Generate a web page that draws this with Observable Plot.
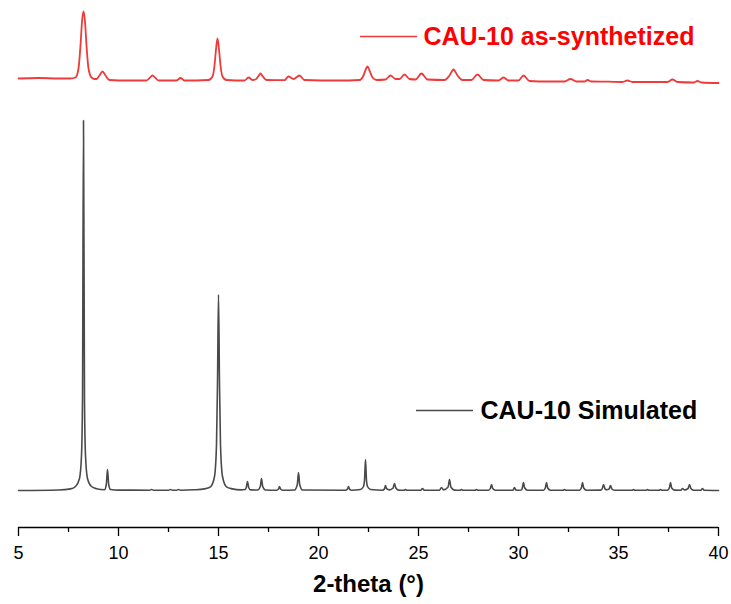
<!DOCTYPE html>
<html>
<head>
<meta charset="utf-8">
<script src="https://cdn.jsdelivr.net/npm/d3@7"></script>
<script src="https://cdn.jsdelivr.net/npm/@observablehq/plot@0.6"></script>
<style>
  html, body { margin: 0; padding: 0; background: #fff; }
  #chart svg { display: block; font-family: "Liberation Sans", Arial, sans-serif; }
  #chart g[aria-label="x-axis label"] { font-size: 24px !important; font-weight: bold !important; }
  #chart g[aria-label="x-axis label"] text { font-size: 24px !important; font-weight: bold !important; }
</style>
</head>
<body>
<div id="chart"></div>
<script>
// ---- data (intensity in arbitrary units) ----
const simulatedTheta = [
  5.0, 7.0, 7.6, 7.85, 8.05, 8.15, 8.2, 8.25, 8.3, 8.35, 8.45, 8.65, 8.9, 9.3,
  9.39, 9.45, 9.51, 9.6, 10.0, 11.55, 11.65, 11.75, 12.5, 12.6, 12.7, 12.9, 13.0, 13.1,
  13.8, 14.3, 14.6, 14.8, 14.9, 14.95, 15.0, 15.05, 15.1, 15.2, 15.4, 15.7, 16.1,
  16.33, 16.39, 16.45, 16.51, 16.6, 16.95, 17.09, 17.15, 17.21, 17.35,
  17.9, 18.0, 18.05, 18.1, 18.2, 18.8, 18.94, 19.0, 19.06, 19.2,
  21.35, 21.45, 21.5, 21.55, 21.65, 22.1, 22.25, 22.3, 22.35, 22.4, 22.45, 22.6,
  23.2, 23.3, 23.35, 23.4, 23.55, 23.73, 23.8, 23.87, 24.0, 24.28, 24.35, 24.42,
  25.1, 25.2, 25.3, 26.05, 26.15, 26.25, 26.48, 26.55, 26.62, 26.8, 27.08, 27.15, 27.22,
  27.83, 27.9, 27.97, 28.5, 28.59, 28.65, 28.71, 28.85, 29.72, 29.8, 29.88,
  30.15, 30.19, 30.25, 30.31, 30.45, 31.25, 31.34, 31.4, 31.46, 31.6,
  32.23, 32.3, 32.37, 33.05, 33.14, 33.2, 33.26, 33.4,
  34.12, 34.19, 34.25, 34.33, 34.42, 34.53, 34.6, 34.67, 34.8,
  35.68, 35.75, 35.82, 36.38, 36.45, 36.52, 37.03, 37.1, 37.17,
  37.45, 37.54, 37.6, 37.66, 37.8, 38.12, 38.2, 38.3, 38.48, 38.55, 38.62, 38.75,
  39.12, 39.2, 39.28, 40.0
];
const simulatedIntensity = [
  0, 0.5, 1.6, 4, 12, 35, 90, 370, 90, 35, 12, 4, 1.8, 0.8,
  6, 21, 6, 1, 0.4, 0.3, 1, 0.3, 0.3, 1, 0.3, 0.3, 1, 0.3,
  0.7, 1.6, 3.7, 14, 46, 107, 196, 107, 46, 14, 3.7, 1.6, 0.6,
  1, 3, 9, 3, 0.6, 0.5, 4, 12, 4, 0.5,
  0.3, 1.5, 4, 1.5, 0.3, 0.5, 6, 18, 6, 0.5,
  0.2, 1.5, 4, 1.5, 0.2, 1, 4, 10, 31, 10, 4, 1,
  0.3, 1.8, 5, 1.8, 0.6, 2.5, 7, 2.5, 0.4, 0.2, 1, 0.2,
  0.2, 2, 0.2, 0.3, 3, 0.6, 3.5, 11, 3.5, 0.4, 0.2, 1, 0.2,
  0.2, 1, 0.2, 0.3, 2, 6, 2, 0.3, 0.2, 3, 0.3,
  0.5, 2.5, 8, 2.5, 0.3, 0.3, 2.5, 8, 2.5, 0.3,
  0.2, 1, 0.2, 0.3, 2.5, 8, 2.5, 0.3,
  0.4, 2, 6, 1.5, 0.8, 1.5, 5, 1.5, 0.3,
  0.2, 1, 0.2, 0.2, 1, 0.2, 0.2, 1, 0.2,
  0.3, 2.5, 8, 2.5, 0.4, 0.3, 2, 0.6, 2, 6, 2, 0.3,
  0.2, 2, 0.2, 0
];

const synthTheta = [
  5.0, 6.0, 7.0, 7.6, 7.85, 8.0, 8.1, 8.18, 8.25, 8.32, 8.4, 8.5, 8.65, 8.8,
  8.9, 9.05, 9.2, 9.35, 9.55, 10.5, 11.4, 11.55, 11.7, 11.85, 12.0, 12.9, 13.1, 13.3,
  14.5, 14.7, 14.8, 14.88, 14.95, 15.02, 15.1, 15.2, 15.4, 16.3, 16.5, 16.7,
  16.85, 17.0, 17.1, 17.2, 17.4, 18.3, 18.5, 18.75, 19.05, 19.3, 21.0,
  22.05, 22.25, 22.38, 22.45, 22.55, 22.7, 22.9, 23.35, 23.6, 23.85, 24.05, 24.3, 24.55,
  24.85, 25.15, 25.45, 26.3, 26.55, 26.75, 26.95, 27.2, 27.65, 27.95, 28.25,
  29.0, 29.25, 29.5, 30.0, 30.25, 30.55, 31.5, 32.3, 32.6, 32.9, 33.3, 33.45, 33.65,
  34.5, 35.2, 35.45, 35.7, 36.5, 37.45, 37.7, 37.95, 38.75, 38.95, 39.15, 40.0
];
const synthIntensity = [
  2, 2.5, 2, 2, 3, 12, 35, 60, 69, 60, 35, 12, 3, 1.5,
  1.5, 5, 9, 5, 0.5, 0, 0, 2.5, 5, 2.5, 0, 0, 2.5, 0,
  0.5, 4, 15, 32, 42, 32, 15, 4, 0.5, 0, 3, 0.5,
  1, 4.5, 7, 4.5, 0.5, 0.3, 4, 1.5, 5, 0.5, 0,
  0.5, 5, 12, 14, 10, 3, 0.5, 1, 5, 1.5, 1.5, 6, 1.5,
  1, 7, 1, 0.5, 5, 11, 5, 0.5, 0.5, 6, 0.5,
  0, 3, 0, 0, 5, -0.5, -1, -1, 1.5, -1, -1, 0.5, -1,
  -1.2, -1.5, 0, -1.5, -1.5, -1.5, 1, -1.5, -2, -0.5, -2, -2.5
];
const synthOffset = 410; // vertical offset of the as-synthetized pattern

const seriesNames = ["CAU-10 Simulated", "CAU-10 as-synthetized"];
const seriesColors = ["#4a4a4a", "#f03a3a"];
const legendTextColors = ["#000000", "#ff0000"];

const majorTicks = [5, 10, 15, 20, 25, 30, 35, 40];
const minorTicks = [7.5, 12.5, 17.5, 22.5, 27.5, 32.5, 37.5];

// ---- build tables ----
const simulated = simulatedTheta.map((t, i) => ({theta: t, y: simulatedIntensity[i]}));
const synth = synthTheta.map((t, i) => ({theta: t, y: synthIntensity[i] + synthOffset}));

const legend = [
  {name: seriesNames[1], color: seriesColors[1], text: legendTextColors[1], x1: 22.1, x2: 24.95, tx: 25.25, y: 454},
  {name: seriesNames[0], color: seriesColors[0], text: legendTextColors[0], x1: 24.9, x2: 27.75, tx: 28.1, y: 80}
];

const chart = Plot.plot({
  width: 731,
  height: 604,
  marginLeft: 18,
  marginRight: 13,
  marginTop: 0,
  marginBottom: 77,
  style: {background: "#fff", fontFamily: "Liberation Sans, Arial, sans-serif", color: "#000"},
  x: {domain: [5, 40]},
  y: {domain: [-37, 490], axis: null},
  marks: [
    Plot.ruleY([-37], {stroke: "#000", strokeWidth: 1.5}),
    Plot.axisX(minorTicks, {tickSize: 5, tickFormat: () => "", stroke: "#000", strokeWidth: 1.3, label: null}),
    Plot.axisX(majorTicks, {
      tickSize: 9, tickPadding: 10, fontSize: 18, stroke: "#000", strokeWidth: 1.3,
      tickFormat: d => String(d), fill: "#000",
      label: "2-theta (°)", labelAnchor: "center", labelArrow: "none", labelOffset: 64
    }),
    Plot.line(simulated, {x: "theta", y: "y", stroke: seriesColors[0], strokeWidth: 1.6, curve: "monotone-x"}),
    Plot.line(synth, {x: "theta", y: "y", stroke: seriesColors[1], strokeWidth: 1.8, curve: "monotone-x"}),
    Plot.ruleY(legend, {y: "y", x1: "x1", x2: "x2", stroke: "color", strokeWidth: 1.5}),
    Plot.text(legend, {x: "tx", y: "y", text: "name", fill: "text", textAnchor: "start", fontSize: 25, fontWeight: "bold"})
  ]
});
document.getElementById("chart").appendChild(chart);
</script>
</body>
</html>
